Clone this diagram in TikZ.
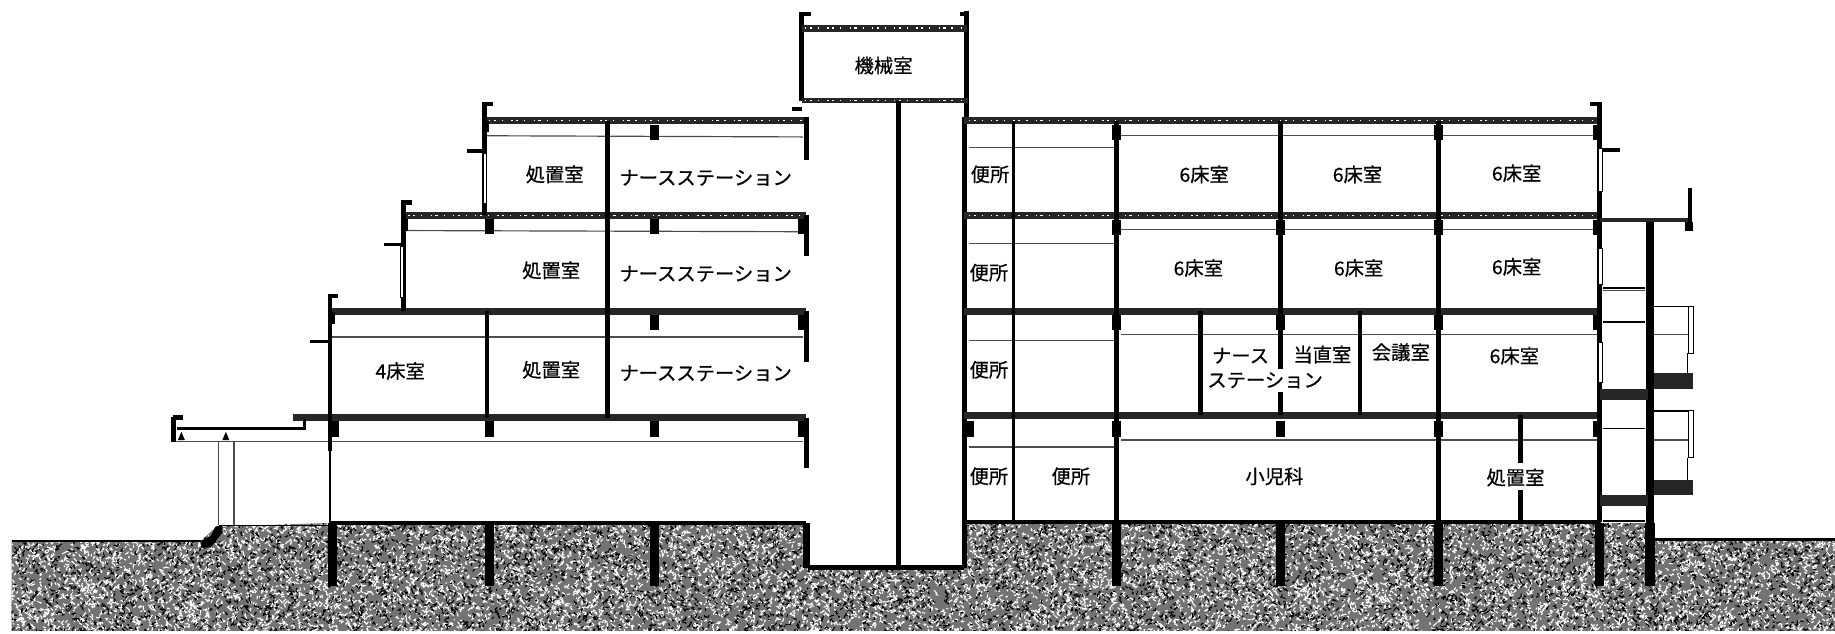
\documentclass[tikz,border=0pt]{standalone}
\usepackage{fontspec}
\newfontfamily\jpfont[FakeBold=0.6]{Noto Sans CJK JP}
\tikzset{
    wall/.style={line width=4pt},
    slab/.style={line width=6pt, black!85},
    grit/.style={line width=1.2pt, white, dash pattern=on 1pt off 3pt on 2pt off 5pt on 1pt off 7pt},
    ceiling/.style={line width=1pt, black!70},
    glass/.style={line width=0.9pt, draw=black, fill=white},
    room/.style={font=\jpfont\fontsize{16.5}{16.5}\selectfont, inner sep=0pt},
}
\begin{document}
\begin{tikzpicture}[x=1pt, y=-1pt]
    \useasboundingbox (0,0) rectangle (1568,541);
    \fill[white] (0,0) rectangle (1568,541);

    % ground
    \begin{scope}
        \clip (10,462) -- (172,462) -- (185,450) -- (278,447) -- (690,447) -- (690,485) -- (825,485) -- (825,447)
            -- (1408,447) -- (1412,461) -- (1568,461) -- (1568,539) -- (10,539) -- cycle;
        \fill[black!55] (0,440) rectangle (1568,541);
        \pgfmathsetseed{11}
        \foreach \k in {1,...,6} {
            \draw[white, line width=0.9pt] foreach \i in {1,...,2200} {
                ({1568*rnd},{440+101*rnd}) -- ++({4*rnd-2},{4*rnd-2}) -- ++({4*rnd-2},{4*rnd-2})
            };
        }
        \foreach \k in {1,...,3} {
            \draw[black, line width=0.9pt] foreach \i in {1,...,2200} {
                ({1568*rnd},{440+101*rnd}) -- ++({4*rnd-2},{4*rnd-2}) -- ++({4*rnd-2},{4*rnd-2})
            };
        }
    \end{scope}
    \draw[line width=2pt] (10,462) -- (172,462);
    \draw[line width=2pt] (1412,461) -- (1568,461);
    \fill (172,462) -- (180,458) -- (184,450) -- (190,449) -- (190,455) -- (180,468) -- (172,468) -- cycle;

    % slabs, left wing
    \draw[slab] (414,103) -- (689,103);
    \draw[slab] (345,184) -- (689,184);
    \draw[slab] (282,266) -- (689,266);
    \draw[slab] (250,357) -- (689,357);
    \draw[wall] (282,447) -- (689,447);
    \draw[grit] (418,103) -- (685,103);
    \draw[grit] (349,184) -- (685,184);
    % ceilings, left wing
    \draw[ceiling] (416,116) -- (686,117);
    \draw[ceiling] (346,197) -- (686,198);
    \draw[ceiling] (284,288) -- (686,288);
    \draw[ceiling] (147,377) -- (686,377);

    % outer walls and parapets, left wing
    \foreach \x/\ytop/\ybot in {414/87/184, 345/171/266, 282/251/357} {
        \draw[wall] (\x,\ytop) -- (\x,\ybot);
        \draw[wall] (\x,\ytop+2) -- (\x+7,\ytop+2);
        \draw[line width=6pt] (\x+1,\ytop+16) -- (\x+1,\ytop+26);
    }
    \draw[line width=1pt] (282,357) -- (282,447);
    \draw[wall] (282,357) -- (282,385);
    \draw[line width=3pt] (399,129) -- (414,129);
    \draw[line width=3pt] (328,209) -- (344,209);
    \draw[line width=3pt] (265,292) -- (280,292);
    \draw[glass] (413,131) rectangle (416,174);
    \draw[glass] (342,211) rectangle (345,254);

    % partition and beams, left wing
    \draw[wall] (519,103) -- (519,357);
    \draw[wall] (416,266) -- (416,357);
    \foreach \x/\y in {559/107, 418/187, 559/187, 559/269, 286/360, 418/360, 559/360, 686/360, 686/269, 686/187} {
        \fill (\x-4,\y) rectangle (\x+4,\y+13);
    }
    \foreach \ytop/\ybot in {100/137, 184/219, 266/309, 357/400, 447/485} {
        \draw[wall] (689,\ytop) -- (689,\ybot);
    }

    % canopy
    \draw[line width=2.5pt] (151,366) -- (260,366) -- (260,358);
    \draw[wall] (148,356) -- (148,378);
    \draw[wall] (148,357) -- (156,357);
    \draw[ceiling] (187,377) -- (187,449);
    \draw[ceiling] (200,377) -- (200,449);
    \draw[line width=1.6pt] (187,449) -- (282,449);
    \foreach \x in {155,193} {
        \fill (\x-3,376) -- (\x,369) -- (\x+3,376) -- cycle;
    }

    % core and machine room
    \draw[wall] (685,10) -- (685,86);
    \draw[wall] (685,12) -- (693,12);
    \draw[wall] (826,9) -- (826,103);
    \draw[wall] (826,12) -- (820,12);
    \draw[slab] (685,24) -- (826,24);
    \draw[grit] (688,24) -- (823,24);
    \draw[line width=4pt, black!85] (685,86) -- (827,86);
    \draw[grit, line width=1pt] (688,86) -- (824,86);
    \draw[wall] (768,86) -- (768,485);
    \draw[wall] (824,100) -- (824,485);
    \draw[wall] (690,485) -- (824,485);
    \draw[line width=3pt] (677,93) -- (685,93);

    % slabs, right wing
    \foreach \y in {103,184,266,355} {
        \draw[slab] (824,\y) -- (1368,\y);
    }
    \draw[grit] (828,103) -- (1364,103);
    \draw[grit] (828,184) -- (1364,184);
    \draw[wall] (824,446) -- (1368,446);
    % ceilings, right wing
    \draw[ceiling] (958,116) -- (1366,116);
    \draw[ceiling] (958,196) -- (1366,196);
    \draw[ceiling] (958,286) -- (1366,286);
    \draw[ceiling] (958,376) -- (1366,376);
    \foreach \y in {126,208,291,382} {
        \draw[ceiling] (828,\y) -- (952,\y);
    }

    % columns and partitions, right wing
    \draw[line width=3pt] (866,103) -- (866,446);
    \foreach \x in {954,1229,1367} {
        \draw[wall] (\x,103) -- (\x,446);
    }
    \draw[wall] (1094,103) -- (1094,315);
    \draw[wall] (1094,335) -- (1094,355);
    \draw[wall] (1026,266) -- (1026,355);
    \draw[wall] (1162,266) -- (1162,355);
    \draw[wall] (1299,355) -- (1299,396);
    \draw[wall] (1299,419) -- (1299,446);
    \foreach \x/\y in {954/107, 1229/107, 1365/107, 954/188, 1094/188, 1229/188, 1365/188, 954/269, 1094/269, 1229/269, 1365/269, 828/360, 954/360, 1094/360, 1229/360, 1365/360} {
        \fill (\x-4,\y) rectangle (\x+4,\y+13);
    }

    % piles
    \foreach \x in {284,418,559,954,1094,1229,1367,1410} {
        \fill (\x-4,447) rectangle (\x+4,501);
    }
    \fill (686,447) rectangle (692,485);

    % balcony, right side
    \draw[line width=7pt] (1410,188) -- (1410,500);
    \draw[line width=3pt, black!85] (1367,188) -- (1444,188);
    \draw[wall] (1444,161) -- (1444,196);
    \fill (1440,190) rectangle (1447,197);
    \draw[wall] (1367,87) -- (1367,103);
    \draw[wall] (1359,89) -- (1367,89);
    \draw[line width=3pt] (1370,128) -- (1384,128);
    \foreach \ya/\yb in {127/164, 212/243, 293/327} {
        \draw[glass] (1366,\ya) rectangle (1369,\yb);
    }
    \draw[line width=1.4pt] (1370,246) -- (1406,246);
    \draw[ceiling] (1370,248) -- (1406,248);
    \draw[line width=1.4pt] (1370,275) -- (1406,275);
    \draw[line width=1.4pt] (1370,366) -- (1406,366);
    \draw[line width=1.4pt] (1370,445) -- (1406,445);
    \fill[black!85] (1367,332) rectangle (1408,342);
    \fill[black!85] (1367,423) rectangle (1408,432);
    \foreach \ytop/\ymid/\yflr in {262/286/319, 351/376/410} {
        \draw[line width=1.5pt] (1413,\ytop) -- (1446,\ytop);
        \draw[ceiling] (1413,\ymid) -- (1443,\ymid);
        \draw[glass] (1443,\ytop) rectangle (1447,\ytop+40);
        \draw[line width=1pt] (1442,\ytop+40) -- (1442,\yflr);
        \fill[black!85] (1413,\yflr) rectangle (1447,\yflr+13);
    }

    % rooms
    \node[room] (machine) at (755,56) {機械室};
    \node[room] (treatA) at (474,149) {処置室};
    \node[room] (treatB) at (471,231) {処置室};
    \node[room] (treatC) at (471,316) {処置室};
    \node[room] (treatD) at (1295,408) {処置室};
    \node[room] (bedfour) at (342,317) {4床室};
    \node[room] (stationA) at (603,152) {ナースステーション};
    \node[room] (stationB) at (603,234) {ナースステーション};
    \node[room] (stationC) at (603,319) {ナースステーション};
    \node[room] (toiletA) at (846,149) {便所};
    \node[room] (toiletB) at (845,233) {便所};
    \node[room] (toiletC) at (845,316) {便所};
    \node[room] (toiletD) at (845,407) {便所};
    \node[room] (toiletE) at (915,407) {便所};
    \node[room] (bedA) at (1029,149) {6床室};
    \node[room] (bedB) at (1160,149) {6床室};
    \node[room] (bedC) at (1296,148) {6床室};
    \node[room] (bedD) at (1024,229) {6床室};
    \node[room] (bedE) at (1161,229) {6床室};
    \node[room] (bedF) at (1296,228) {6床室};
    \node[room] (bedG) at (1294,304) {6床室};
    \node[room] (stationD) at (1060,304) {ナース};
    \node[room] (stationE) at (1081,325) {ステーション};
    \node[room] (duty) at (1130,303) {当直室};
    \node[room] (meeting) at (1197,301) {会議室};
    \node[room] (pediatrics) at (1089,407) {小児科};
\end{tikzpicture}
\end{document}
